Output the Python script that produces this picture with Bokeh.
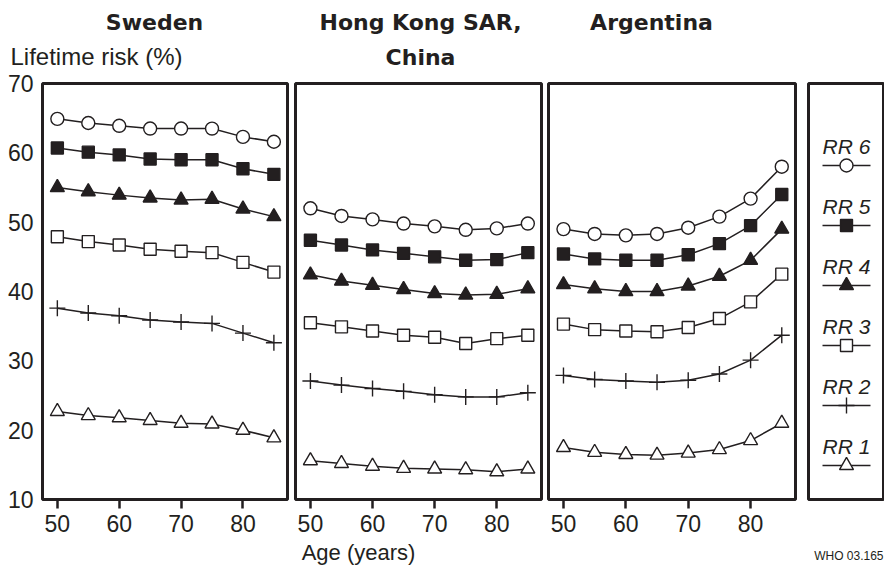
from bokeh.plotting import figure
from bokeh.layouts import row, column
from bokeh.models import Range1d, FixedTicker
from bokeh.embed import file_html
from bokeh.resources import INLINE
from bokeh.core.properties import value

# ---------------- data ----------------
ages = [50, 55, 60, 65, 70, 75, 80, 85]
series_names = ["RR 6", "RR 5", "RR 4", "RR 3", "RR 2", "RR 1"]

sweden_rr6 = [64.9, 64.3, 63.9, 63.5, 63.5, 63.5, 62.3, 61.6]
sweden_rr5 = [60.7, 60.1, 59.7, 59.1, 59.0, 59.0, 57.7, 56.9]
sweden_rr4 = [55.0, 54.4, 53.9, 53.5, 53.2, 53.3, 51.9, 50.8]
sweden_rr3 = [47.9, 47.2, 46.7, 46.1, 45.8, 45.6, 44.2, 42.8]
sweden_rr2 = [37.6, 36.9, 36.5, 35.9, 35.6, 35.4, 34.0, 32.6]
sweden_rr1 = [22.7, 22.1, 21.8, 21.4, 21.0, 20.9, 20.0, 18.9]

hongkong_rr6 = [52.0, 50.9, 50.4, 49.8, 49.4, 48.9, 49.1, 49.8]
hongkong_rr5 = [47.4, 46.7, 46.0, 45.5, 45.0, 44.5, 44.6, 45.6]
hongkong_rr4 = [42.4, 41.5, 40.9, 40.3, 39.7, 39.5, 39.6, 40.4]
hongkong_rr3 = [35.5, 34.9, 34.3, 33.7, 33.4, 32.5, 33.2, 33.7]
hongkong_rr2 = [27.1, 26.5, 26.0, 25.6, 25.1, 24.8, 24.8, 25.4]
hongkong_rr1 = [15.6, 15.2, 14.8, 14.5, 14.4, 14.3, 14.0, 14.4]

argentina_rr6 = [49.0, 48.3, 48.1, 48.3, 49.2, 50.8, 53.4, 58.0]
argentina_rr5 = [45.4, 44.7, 44.5, 44.5, 45.3, 46.9, 49.5, 54.0]
argentina_rr4 = [41.0, 40.4, 40.0, 40.0, 40.8, 42.2, 44.5, 49.0]
argentina_rr3 = [35.3, 34.5, 34.3, 34.2, 34.8, 36.1, 38.5, 42.5]
argentina_rr2 = [27.9, 27.3, 27.1, 26.9, 27.2, 28.1, 30.1, 33.7]
argentina_rr1 = [17.5, 16.8, 16.5, 16.4, 16.7, 17.2, 18.5, 21.0]

country_titles = [["Sweden"], ["Hong Kong SAR,", "China"], ["Argentina"]]
y_ticks = [10, 20, 30, 40, 50, 60, 70]
x_ticks = [50, 60, 70, 80]
y_axis_title = "Lifetime risk (%)"
x_axis_title = "Age (years)"
source_note = "WHO 03.165"

panels_data = [
    [sweden_rr6, sweden_rr5, sweden_rr4, sweden_rr3, sweden_rr2, sweden_rr1],
    [hongkong_rr6, hongkong_rr5, hongkong_rr4, hongkong_rr3, hongkong_rr2, hongkong_rr1],
    [argentina_rr6, argentina_rr5, argentina_rr4, argentina_rr3, argentina_rr2, argentina_rr1],
]

# ---------------- styles / layout ----------------
INK = "#231f20"
FONT = "Liberation Sans"
TITLE_FONT = "DejaVu Sans"

styles = {
    "RR 6": dict(marker="circle", size=13, fill_color="white"),
    "RR 5": dict(marker="square", size=12, fill_color=INK),
    "RR 4": dict(marker="triangle", size=14, fill_color=INK),
    "RR 3": dict(marker="square", size=12, fill_color="white"),
    "RR 2": dict(marker="cross", size=16, fill_color="white"),
    "RR 1": dict(marker="triangle", size=14, fill_color="white"),
}

TOTAL_W = 884
TOP_STRIP_H = 71
BOTTOM_STRIP_H = 26
PANEL_TOP = 12
FRAME_H = 416
PANEL_BOTTOM = 40
PANEL_H = PANEL_TOP + FRAME_H + PANEL_BOTTOM
X0, X1 = 47.6, 87.2
Y0, Y1 = 10, 70

layout_specs = [
    dict(lb=42, fw=245, rb=4, title_x=154),
    dict(lb=4, fw=246, rb=4, title_x=420),
    dict(lb=3, fw=247, rb=6, title_x=651),
]


def strip(height, y_top):
    s = figure(width=TOTAL_W, height=height,
               x_range=Range1d(0, TOTAL_W), y_range=Range1d(y_top + height, y_top),
               output_backend="svg", toolbar_location=None,
               x_axis_location=None, y_axis_location=None,
               min_border=0, min_border_left=0, min_border_right=0,
               min_border_top=0, min_border_bottom=0)
    s.outline_line_color = None
    s.grid.visible = False
    s.background_fill_color = "white"
    s.border_fill_color = "white"
    return s


def make_panel(i):
    spec = layout_specs[i]
    show_y = i == 0
    p = figure(
        width=spec["lb"] + spec["fw"] + spec["rb"], height=PANEL_H,
        x_range=Range1d(X0, X1), y_range=Range1d(Y0, Y1),
        output_backend="svg", toolbar_location=None,
        min_border_left=spec["lb"], min_border_right=spec["rb"],
        min_border_top=PANEL_TOP, min_border_bottom=PANEL_BOTTOM,
        y_axis_location="left" if show_y else None,
    )
    p.outline_line_color = INK
    p.outline_line_width = 3
    p.grid.visible = False
    p.background_fill_color = "white"
    p.border_fill_color = "white"

    xa = p.xaxis[0]
    xa.ticker = FixedTicker(ticks=x_ticks)
    xa.axis_line_color = None
    xa.major_tick_in = 0
    xa.major_tick_out = 9
    xa.major_tick_line_width = 2.5
    xa.major_tick_line_color = INK
    xa.minor_tick_line_color = None
    xa.major_label_text_font = FONT
    xa.major_label_text_font_size = "23px"
    xa.major_label_text_color = INK
    xa.major_label_standoff = 6

    if show_y:
        ya = p.yaxis[0]
        ya.ticker = FixedTicker(ticks=y_ticks)
        ya.axis_line_color = None
        ya.major_tick_line_color = None
        ya.minor_tick_line_color = None
        ya.major_tick_in = 0
        ya.major_tick_out = 0
        ya.major_label_text_font = FONT
        ya.major_label_text_font_size = "23px"
        ya.major_label_text_color = INK
        ya.major_label_standoff = 9

    for name, vals in zip(series_names, panels_data[i]):
        st = styles[name]
        p.line(ages, vals, line_color=INK, line_width=1.5)
        p.scatter(ages, vals, marker=st["marker"], size=st["size"],
                  fill_color=st["fill_color"], line_color=INK, line_width=1.4)
    return p


panels = [make_panel(i) for i in range(3)]

# ---------------- legend panel ----------------
leg = figure(
    width=7 + 75 + 1, height=PANEL_H,
    x_range=Range1d(808, 883), y_range=Range1d(499, 83),
    output_backend="svg", toolbar_location=None,
    min_border_left=7, min_border_right=1,
    min_border_top=PANEL_TOP, min_border_bottom=PANEL_BOTTOM,
    x_axis_location=None, y_axis_location=None,
)
leg.outline_line_color = INK
leg.outline_line_width = 3
leg.grid.visible = False
leg.background_fill_color = "white"
leg.border_fill_color = "white"

cx = 846
for k, name in enumerate(series_names):
    ty = 146 + 60 * k
    ly = ty + 19
    st = styles[name]
    leg.text(x=[cx], y=[ty], text=[name], text_font=value(FONT),
             text_font_style="italic", text_font_size="21px", text_color=INK,
             text_align="center", text_baseline="middle")
    leg.segment(x0=[cx - 24], y0=[ly], x1=[cx + 24], y1=[ly],
                line_color=INK, line_width=1.5)
    leg.scatter([cx], [ly], marker=st["marker"], size=st["size"],
                fill_color=st["fill_color"], line_color=INK, line_width=1.4)

# ---------------- top strip: titles + y axis title ----------------
top = strip(TOP_STRIP_H, 0)
title_rows_y = [22, 57]
for i, lines in enumerate(country_titles):
    for line_txt, py in zip(lines, title_rows_y):
        top.text(x=[layout_specs[i]["title_x"]], y=[py], text=[line_txt],
                 text_font=value(TITLE_FONT), text_font_style="bold",
                 text_font_size="22px", text_color=INK,
                 text_align="center", text_baseline="middle")
top.text(x=[10], y=[56], text=[y_axis_title], text_font=value(FONT),
         text_font_size="24px", text_color=INK,
         text_align="left", text_baseline="middle")

# ---------------- bottom strip: x axis title + source note ----------------
bottom_y0 = TOP_STRIP_H + PANEL_H
bot = strip(BOTTOM_STRIP_H, bottom_y0)
bot.text(x=[358], y=[552], text=[x_axis_title], text_font=value(FONT),
         text_font_size="22px", text_color=INK,
         text_align="center", text_baseline="middle")
bot.text(x=[883], y=[555], text=[source_note], text_font=value(FONT),
         text_font_size="12px", text_color=INK,
         text_align="right", text_baseline="middle")

layout = column(top, row(*panels, leg), bot)
open("out.html", "w").write(file_html(layout, INLINE))
